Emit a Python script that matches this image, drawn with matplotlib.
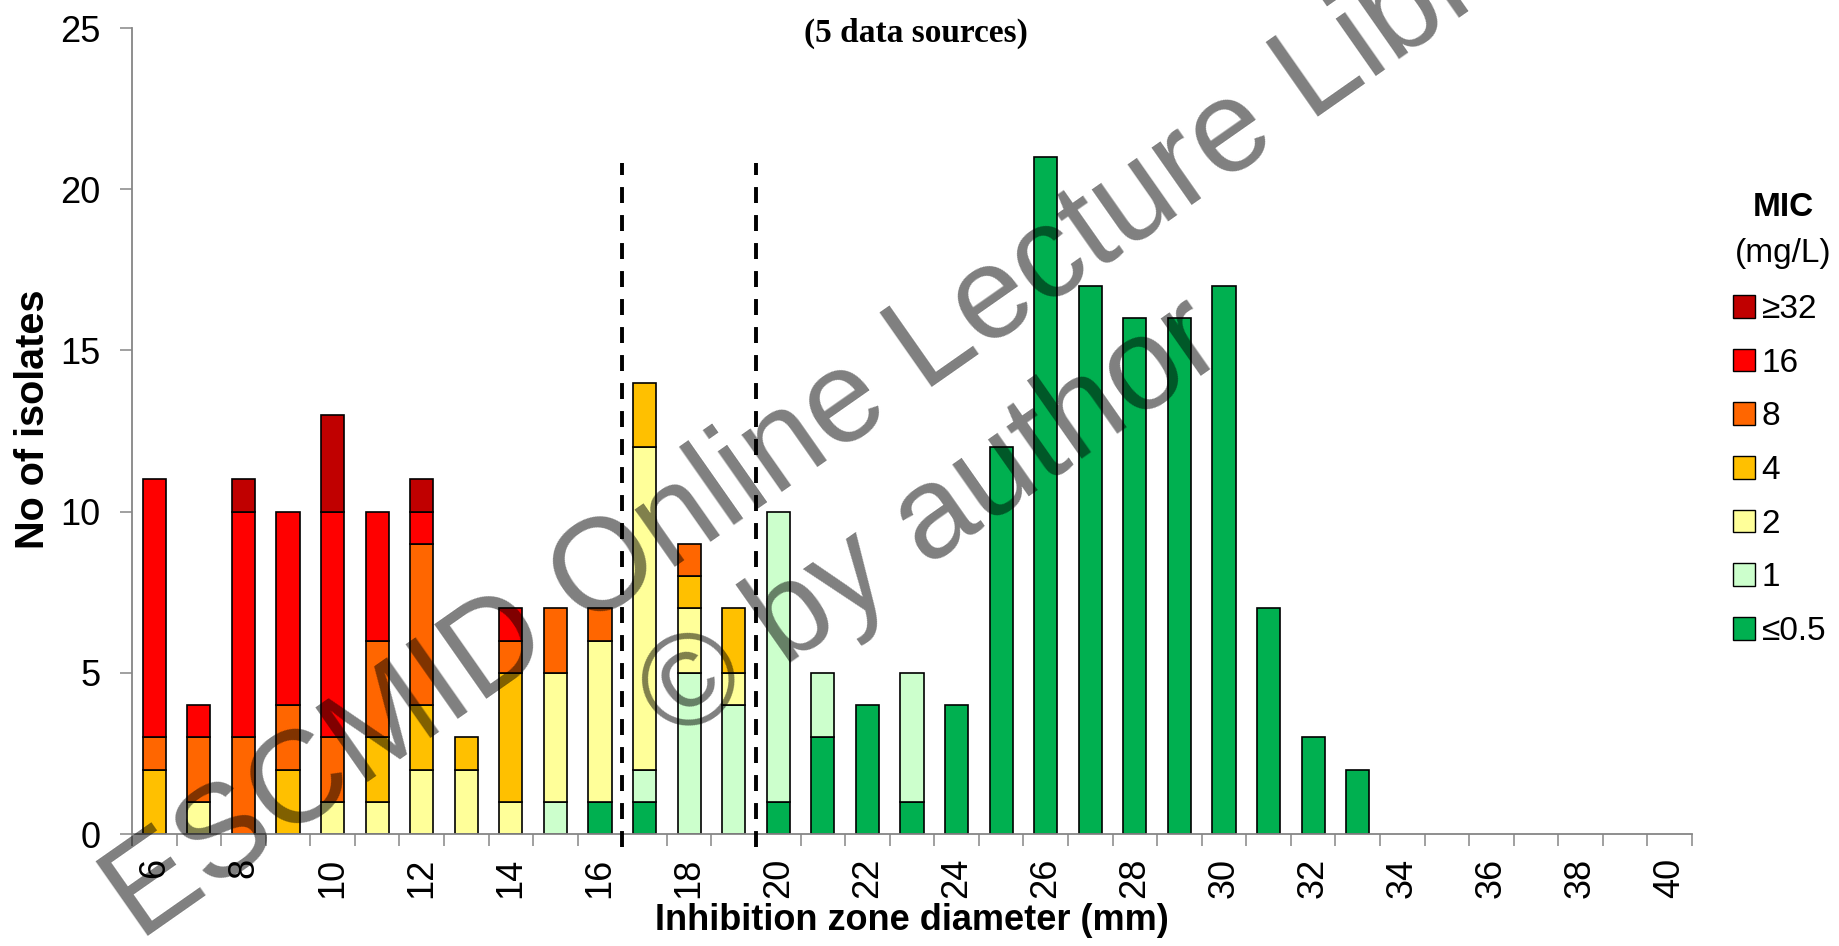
import matplotlib
matplotlib.use("Agg")
import matplotlib.pyplot as plt
from matplotlib.patches import Patch
import numpy as np

plt.rcParams["font.family"] = ["Liberation Sans", "DejaVu Sans"]

# inhibition zone diameters (mm), one bar per mm
zones = list(range(6, 41))

# isolate counts per MIC class (mg/L), stacked bottom to top
mic_le05 = [0, 0, 0, 0, 0, 0, 0, 0, 0, 0, 1, 1, 0, 0, 1, 3, 4, 1, 4, 12,
            21, 17, 16, 16, 17, 7, 3, 2, 0, 0, 0, 0, 0, 0, 0]
mic_1 = [0, 0, 0, 0, 0, 0, 0, 0, 0, 1, 0, 1, 5, 4, 9, 2, 0, 4, 0, 0,
         0, 0, 0, 0, 0, 0, 0, 0, 0, 0, 0, 0, 0, 0, 0]
mic_2 = [0, 1, 0, 0, 1, 1, 2, 2, 1, 4, 5, 10, 2, 1, 0, 0, 0, 0, 0, 0,
         0, 0, 0, 0, 0, 0, 0, 0, 0, 0, 0, 0, 0, 0, 0]
mic_4 = [2, 0, 0, 2, 0, 2, 2, 1, 4, 0, 0, 2, 1, 2, 0, 0, 0, 0, 0, 0,
         0, 0, 0, 0, 0, 0, 0, 0, 0, 0, 0, 0, 0, 0, 0]
mic_8 = [1, 2, 3, 2, 2, 3, 5, 0, 1, 2, 1, 0, 1, 0, 0, 0, 0, 0, 0, 0,
         0, 0, 0, 0, 0, 0, 0, 0, 0, 0, 0, 0, 0, 0, 0]
mic_16 = [8, 1, 7, 6, 7, 4, 1, 0, 1, 0, 0, 0, 0, 0, 0, 0, 0, 0, 0, 0,
          0, 0, 0, 0, 0, 0, 0, 0, 0, 0, 0, 0, 0, 0, 0]
mic_ge32 = [0, 0, 1, 0, 3, 0, 1, 0, 0, 0, 0, 0, 0, 0, 0, 0, 0, 0, 0, 0,
            0, 0, 0, 0, 0, 0, 0, 0, 0, 0, 0, 0, 0, 0, 0]

mic_labels = ["≤0.5", "1", "2", "4", "8", "16", "≥32"]
mic_colors = ["#00B050", "#CCFFCC", "#FFFF99", "#FFC000", "#FF6600", "#FF0000", "#C00000"]

# breakpoints drawn as dashed lines between zones
breakpoints = [16.5, 19.5]

series = [mic_le05, mic_1, mic_2, mic_4, mic_8, mic_16, mic_ge32]

W, H = 1839, 946
fig = plt.figure(figsize=(W / 100, H / 100), dpi=100)
ax = fig.add_axes([132 / W, 1 - 834 / H, 1560 / W, (834 - 28) / H])

x = np.arange(len(zones))
bottom = np.zeros(len(zones))
for vals, col in zip(series, mic_colors):
    vals = np.array(vals, dtype=float)
    keep = vals > 0  # empty segments would leave an outline on the axis
    ax.bar(x[keep], vals[keep], 0.52, bottom=bottom[keep], color=col,
           edgecolor="black", linewidth=1.2, zorder=2)
    bottom += vals

for bp in breakpoints:
    xi = zones.index(int(bp - 0.5)) + 0.5
    ax.plot([xi, xi], [-0.4, 20.8], color="black", lw=2.8,
            dashes=(4.1, 3.1), clip_on=False, zorder=3)

ax.set_xlim(-0.5, len(zones) - 0.5)
ax.set_ylim(0, 25)
ax.set_yticks(range(0, 26, 5))
ax.set_xticks(x[::2])
ax.set_xticklabels([str(z) for z in zones[::2]], rotation=90, va="top")
ax.set_xticks(np.arange(-0.5, len(zones), 1), minor=True)

for s in ("top", "right"):
    ax.spines[s].set_visible(False)
for s in ("left", "bottom"):
    ax.spines[s].set_color("#868686")
    ax.spines[s].set_linewidth(1.3)

ax.tick_params(axis="y", length=8.6, width=1.1, color="#868686",
               labelsize=26, pad=14)
ax.tick_params(axis="x", which="major", length=0, labelsize=26, pad=17)
ax.tick_params(axis="x", which="minor", length=8.6, width=1.1, color="#868686")

fig.text(33 / W, 1 - 419 / H, "No of isolates", rotation=90, ha="center",
         va="center", fontsize=28.5, fontweight="bold")
fig.text(912 / W, 1 - 920 / H, "Inhibition zone diameter (mm)", ha="center",
         va="center", fontsize=26, fontweight="bold")
fig.text(916 / W, 1 - 33 / H, "(5 data sources)", ha="center", va="center",
         fontsize=24, fontweight="bold", family="Liberation Serif")

# legend, highest MIC on top
fig.text(1783 / W, 1 - 207 / H, "MIC", ha="center", va="center",
         fontsize=24, fontweight="bold")
fig.text(1783 / W, 1 - 253 / H, "(mg/L)", ha="center", va="center", fontsize=24)
handles = [Patch(facecolor=c, edgecolor="black", linewidth=1.0, label=l)
           for c, l in zip(mic_colors[::-1], mic_labels[::-1])]
fig.legend(handles=handles, loc="upper left",
           bbox_to_anchor=(1733 / W, 1 - 294 / H), frameon=False,
           fontsize=24, handlelength=0.66, handleheight=0.66,
           handletextpad=0.2, labelspacing=0.68, borderpad=0, borderaxespad=0)

# watermark
wm = dict(fontsize=94, color="black", alpha=0.5, rotation=35,
          rotation_mode="anchor", ha="left", va="baseline", zorder=10)
fig.text(140 / W, 1 - 942 / H, "ESCMID Online Lecture Library", **wm)
fig.text(676 / W, 1 - 744 / H, "© by author", **wm)

fig.savefig("out.png", dpi=100)
